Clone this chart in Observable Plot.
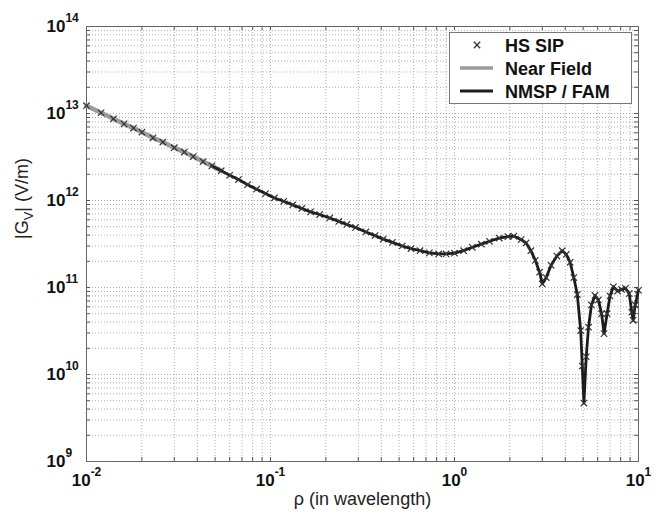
<!DOCTYPE html>
<html>
<head>
<meta charset="utf-8">
<script src="https://cdn.jsdelivr.net/npm/d3@7"></script>
<script src="https://cdn.jsdelivr.net/npm/@observablehq/plot@0.6"></script>
<style>
  body { margin: 0; background: #fff; }
  #wrap { position: relative; width: 664px; height: 517px; }
  #legend { position: absolute; left: 449px; top: 32px; width: 183px; height: 72px;
            box-sizing: border-box; border: 1px solid #777; background: #fff; }
  #legend svg { display: block; }
</style>
</head>
<body>
<div id="wrap"></div>
<script>
// ---- data ----
const rho = [0.010, 0.012, 0.014, 0.016, 0.018, 0.020, 0.023, 0.026, 0.030, 0.034,
             0.038, 0.043, 0.048, 0.054, 0.060, 0.067, 0.075, 0.084, 0.094, 0.105,
             0.118, 0.132, 0.148, 0.165, 0.185, 0.21, 0.235, 0.26, 0.29, 0.33,
             0.37, 0.41, 0.46, 0.52, 0.58, 0.65, 0.73, 0.82, 0.90, 1.0,
             1.12, 1.25, 1.4, 1.55, 1.75, 1.95, 2.1, 2.3, 2.45, 2.6,
             2.75, 2.9, 3.0, 3.15, 3.35, 3.6, 3.85, 4.05, 4.25, 4.45,
             4.65, 4.85, 4.95, 5.05, 5.2, 5.35, 5.55, 5.8, 6.05, 6.3,
             6.5, 6.75, 7.0, 7.3, 7.7, 8.1, 8.5, 8.9, 9.2, 9.35,
             9.6, 10.0];
const gv  = [1.23e13, 1.02e13, 8.7e12, 7.6e12, 6.8e12, 6.1e12, 5.25e12, 4.7e12, 4.05e12, 3.6e12,
             3.2e12, 2.8e12, 2.5e12, 2.2e12, 1.95e12, 1.74e12, 1.52e12, 1.35e12, 1.2e12, 1.07e12,
             9.8e11, 8.9e11, 8.1e11, 7.4e11, 6.9e11, 6.3e11, 5.75e11, 5.3e11, 4.9e11, 4.35e11,
             3.95e11, 3.6e11, 3.3e11, 3.0e11, 2.8e11, 2.65e11, 2.5e11, 2.43e11, 2.43e11, 2.48e11,
             2.65e11, 2.9e11, 3.15e11, 3.4e11, 3.7e11, 3.85e11, 3.9e11, 3.55e11, 3.25e11, 2.65e11,
             2.05e11, 1.5e11, 1.1e11, 1.3e11, 1.8e11, 2.3e11, 2.65e11, 2.4e11, 1.95e11, 1.3e11,
             8.3e10, 3.2e10, 1.25e10, 4.7e9, 1.6e10, 3.5e10, 6.3e10, 8.1e10, 7.2e10, 5.0e10,
             2.95e10, 5.0e10, 8.0e10, 1.02e11, 9.1e10, 9.5e10, 9.8e10, 8.5e10, 5.2e10, 4.2e10,
             6.3e10, 9.3e10];
const seriesNames = ["HS SIP", "Near Field", "NMSP / FAM"];
const nearFieldMax = 0.054;   // near-field curve shown up to here
const nmspMin = 0.048;        // NMSP / FAM curve shown from here
const xMajorTicks = [0.01, 0.1, 1, 10];
const xMinorTicks = [0.02, 0.03, 0.04, 0.05, 0.06, 0.07, 0.08, 0.09,
                     0.2, 0.3, 0.4, 0.5, 0.6, 0.7, 0.8, 0.9,
                     2, 3, 4, 5, 6, 7, 8, 9];
const yMajorTicks = [1e9, 1e10, 1e11, 1e12, 1e13, 1e14];
const yMinorTicks = [2e9, 3e9, 4e9, 5e9, 6e9, 7e9, 8e9, 9e9,
                     2e10, 3e10, 4e10, 5e10, 6e10, 7e10, 8e10, 9e10,
                     2e11, 3e11, 4e11, 5e11, 6e11, 7e11, 8e11, 9e11,
                     2e12, 3e12, 4e12, 5e12, 6e12, 7e12, 8e12, 9e12,
                     2e13, 3e13, 4e13, 5e13, 6e13, 7e13, 8e13, 9e13];
const xLabel = "ρ (in wavelength)";
const yLabel = "|G_V| (V/m)";

// ---- chart ----
const W = 664, H = 517, mL = 86, mR = 26, mT = 26, mB = 56;
const fw = W - mL - mR, fh = H - mT - mB;
const pts = rho.map((r, i) => ({rho: r, g: gv[i]}));
const allX = xMajorTicks.concat(xMinorTicks);
const allY = yMajorTicks.concat(yMinorTicks);
const font = "'Liberation Sans', Arial, Helvetica, sans-serif";
const gridStyle = {stroke: "#8a8a8a", strokeOpacity: 0.7, strokeDasharray: "1,2", strokeWidth: 1};
const tickStyle = {stroke: "#555", strokeWidth: 1};
const tickLen = 4;

const chart = Plot.plot({
  width: W, height: H,
  marginLeft: mL, marginRight: mR, marginTop: mT, marginBottom: mB,
  style: {fontFamily: font, background: "#fff", color: "#111"},
  x: {type: "log", domain: [0.01, 10], axis: null},
  y: {type: "log", domain: [1e9, 1e14], axis: null},
  marks: [
    Plot.ruleX(allX, {x: d => d, ...gridStyle}),
    Plot.ruleY(allY, {y: d => d, ...gridStyle}),
    Plot.tickX(allX, {x: d => d, insetTop: fh - tickLen, ...tickStyle}),
    Plot.tickX(allX, {x: d => d, insetBottom: fh - tickLen, ...tickStyle}),
    Plot.tickY(allY, {y: d => d, insetRight: fw - tickLen, ...tickStyle}),
    Plot.tickY(allY, {y: d => d, insetLeft: fw - tickLen, ...tickStyle}),
    Plot.frame({stroke: "#666", strokeWidth: 1}),
    Plot.line(pts.filter(d => d.rho <= nearFieldMax), {x: "rho", y: "g", stroke: "#9b9b9b", strokeWidth: 4.5}),
    Plot.line(pts.filter(d => d.rho >= nmspMin), {x: "rho", y: "g", stroke: "#1c1c1c", strokeWidth: 2.8}),
    Plot.dot(pts, {x: "rho", y: "g", symbol: "times", r: 3, stroke: "#333", strokeWidth: 1.2}),
    Plot.text(xMajorTicks, {x: d => d, frameAnchor: "bottom", dy: 24,
      text: d => "10^" + Math.round(Math.log10(d)), fontSize: 17, fontWeight: "bold", fill: "#111"}),
    Plot.text(yMajorTicks, {y: d => d, frameAnchor: "left", dx: -40, textAnchor: "start",
      text: d => "10^" + Math.round(Math.log10(d)), fontSize: 17, fontWeight: "bold", fill: "#111"}),
    Plot.text([xLabel], {frameAnchor: "bottom", dy: 43, text: d => d, fontSize: 18, fill: "#222"}),
    Plot.text([yLabel], {frameAnchor: "left", dx: -64, dy: -5, rotate: -90, text: d => d, fontSize: 18, fill: "#222"})
  ]
});

// superscripts / subscripts as real text
const NS = "http://www.w3.org/2000/svg";
function tspan(txt, attrs) {
  const t = document.createElementNS(NS, "tspan");
  t.textContent = txt;
  for (const k in attrs) t.setAttribute(k, attrs[k]);
  return t;
}
chart.querySelectorAll("text").forEach(t => {
  const s = t.textContent;
  if (s.includes("^")) {
    const [b, e] = s.split("^");
    t.textContent = "";
    t.appendChild(tspan(b, {}));
    t.appendChild(tspan(e, {dy: "-10", "font-size": "12"}));
  } else if (s.includes("_")) {
    const m = s.match(/^(.*?)_(.)(.*)$/);
    t.textContent = "";
    t.appendChild(tspan(m[1], {}));
    t.appendChild(tspan(m[2], {dy: "5", "font-size": "13"}));
    t.appendChild(tspan(m[3], {dy: "-5"}));
  }
});

const wrap = document.getElementById("wrap");
wrap.appendChild(chart);

// legend
const legendStyles = [
  {kind: "marker", color: "#333"},
  {kind: "line", color: "#9b9b9b", width: 3.5},
  {kind: "line", color: "#1c1c1c", width: 3}
];
const leg = document.createElement("div");
leg.id = "legend";
const lsvg = d3.create("svg").attr("width", 181).attr("height", 70);
const rowY = [12, 35, 58];
seriesNames.forEach((name, i) => {
  const st = legendStyles[i], y = rowY[i];
  if (st.kind === "marker") {
    lsvg.append("path").attr("d", d3.symbol(d3.symbolTimes, 28)())
      .attr("transform", `translate(27,${y})`).attr("fill", "none")
      .attr("stroke", st.color).attr("stroke-width", 1.3);
  } else {
    lsvg.append("line").attr("x1", 10).attr("x2", 43).attr("y1", y).attr("y2", y)
      .attr("stroke", st.color).attr("stroke-width", st.width);
  }
  lsvg.append("text").attr("x", 55).attr("y", y + 6.5).text(name)
    .attr("font-family", font).attr("font-weight", "bold").attr("font-size", 18).attr("fill", "#111");
});
leg.appendChild(lsvg.node());
wrap.appendChild(leg);
</script>
</body>
</html>
